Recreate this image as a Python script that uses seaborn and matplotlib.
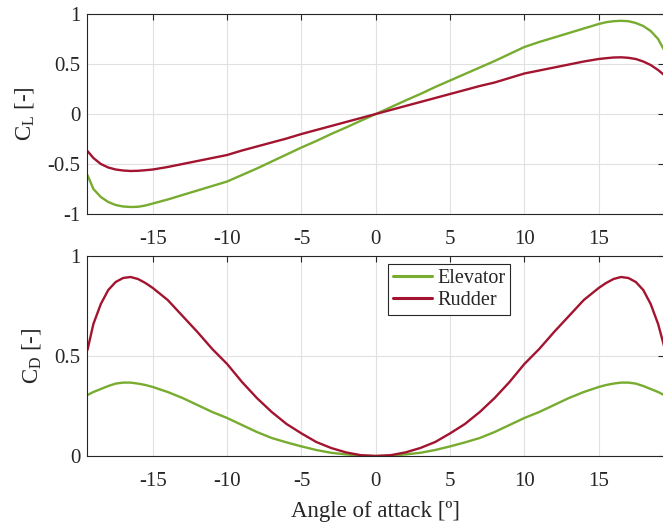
import numpy as np
import pandas as pd
import matplotlib
matplotlib.use("Agg")
import matplotlib.pyplot as plt
import seaborn as sns

# ---- data ----
alpha = [-19.4, -19, -18.5, -18, -17.5, -17, -16.5, -16, -15.5, -15, -14, -13, -12, -11, -10,
         -9, -8, -7, -6, -5, -4, -3, -2, -1, 0,
         1, 2, 3, 4, 5, 6, 7, 8, 9, 10,
         11, 12, 13, 14, 15, 15.5, 16, 16.5, 17, 17.5, 18, 18.5, 19, 19.4]

cl_elevator = [-0.61, -0.75, -0.83, -0.88, -0.91, -0.925, -0.93, -0.928, -0.915, -0.895, -0.855, -0.81, -0.765, -0.72, -0.675,
               -0.61, -0.545, -0.475, -0.405, -0.335, -0.27, -0.2, -0.135, -0.067, 0.0,
               0.067, 0.135, 0.2, 0.27, 0.335, 0.40, 0.465, 0.53, 0.60, 0.67,
               0.72, 0.765, 0.81, 0.855, 0.90, 0.918, 0.928, 0.932, 0.928, 0.91, 0.88, 0.83, 0.75, 0.64]

cl_rudder = [-0.37, -0.44, -0.50, -0.535, -0.555, -0.565, -0.57, -0.568, -0.562, -0.555, -0.53, -0.50, -0.47, -0.44, -0.41,
             -0.365, -0.325, -0.285, -0.245, -0.20, -0.16, -0.12, -0.08, -0.04, 0.0,
             0.04, 0.08, 0.12, 0.16, 0.20, 0.24, 0.28, 0.315, 0.36, 0.405,
             0.435, 0.465, 0.495, 0.525, 0.55, 0.558, 0.565, 0.567, 0.562, 0.55, 0.525, 0.49, 0.44, 0.39]

cd_elevator = [0.305, 0.32, 0.335, 0.35, 0.362, 0.367, 0.367, 0.362, 0.355, 0.345, 0.32, 0.29, 0.255, 0.22, 0.19,
               0.155, 0.12, 0.09, 0.068, 0.048, 0.03, 0.016, 0.008, 0.002, 0.0,
               0.002, 0.008, 0.016, 0.03, 0.048, 0.068, 0.09, 0.12, 0.155, 0.19,
               0.22, 0.255, 0.29, 0.32, 0.345, 0.355, 0.362, 0.367, 0.367, 0.362, 0.35, 0.335, 0.32, 0.305]

cd_rudder = [0.53, 0.66, 0.76, 0.83, 0.87, 0.89, 0.895, 0.885, 0.865, 0.84, 0.78, 0.70, 0.62, 0.535, 0.46,
             0.37, 0.29, 0.22, 0.16, 0.113, 0.07, 0.04, 0.018, 0.004, 0.0,
             0.004, 0.018, 0.04, 0.07, 0.113, 0.16, 0.22, 0.29, 0.37, 0.46,
             0.535, 0.62, 0.70, 0.78, 0.84, 0.865, 0.885, 0.895, 0.89, 0.87, 0.83, 0.76, 0.66, 0.55]

series_names = ["Elevator", "Rudder"]
colors = ["#77AC30", "#A2142F"]
xticks = [-15, -10, -5, 0, 5, 10, 15]
cl_ticks = [-1, -0.5, 0, 0.5, 1]
cd_ticks = [0, 0.5, 1]

df_cl = pd.DataFrame({"alpha": alpha * 2, "value": cl_elevator + cl_rudder,
                      "series": [series_names[0]] * len(alpha) + [series_names[1]] * len(alpha)})
df_cd = pd.DataFrame({"alpha": alpha * 2, "value": cd_elevator + cd_rudder,
                      "series": [series_names[0]] * len(alpha) + [series_names[1]] * len(alpha)})

sns.set_theme(style="white")
plt.rcParams["font.family"] = ["Liberation Serif", "DejaVu Serif"]
plt.rcParams["mathtext.fontset"] = "custom"
plt.rcParams["mathtext.rm"] = "Liberation Serif"
plt.rcParams["mathtext.it"] = "Liberation Serif:italic"

fig = plt.figure(figsize=(6.63, 5.24), dpi=100)
W, H = 663, 524
left = 87.3 / W
width = (664.2 - 87.3) / W
ax1 = fig.add_axes([left, 1 - 214 / H, width, 200 / H])
ax2 = fig.add_axes([left, 1 - 456 / H, width, 200 / H])

pal = dict(zip(series_names, colors))
sns.lineplot(data=df_cl, x="alpha", y="value", hue="series", palette=pal, ax=ax1,
             linewidth=1.7, legend=False, sort=True)
sns.lineplot(data=df_cd, x="alpha", y="value", hue="series", palette=pal, ax=ax2,
             linewidth=1.7, legend=True, sort=True)

tc = "#262626"
for ax, yt, ylim in [(ax1, cl_ticks, (-1, 1)), (ax2, cd_ticks, (0, 1))]:
    ax.set_xlim(-19.41, 19.41)
    ax.set_ylim(*ylim)
    ax.set_xticks(xticks)
    ax.set_xticklabels([str(t) for t in xticks])
    ax.set_yticks(yt)
    ax.set_yticklabels([("%g" % t) for t in yt])
    ax.grid(True, color="#e1e1e1", linewidth=0.8)
    ax.set_axisbelow(True)
    ax.tick_params(direction="in", length=4, width=0.8, top=True, right=True,
                   labelsize=15, colors=tc, labelcolor=tc)
    ax.tick_params(axis="x", pad=11.5)
    ax.tick_params(axis="y", pad=5)
    for s in ax.spines.values():
        s.set_color(tc)
        s.set_linewidth(0.8)
    ax.set_xlabel("")

ax1.set_ylabel(r"C$_{\mathrm{L}}$ [-]", fontsize=16.5, color=tc, labelpad=8)
ax2.set_ylabel(r"C$_{\mathrm{D}}$ [-]", fontsize=16.5, color=tc, labelpad=8)
ax2.set_xlabel("Angle of attack [º]", fontsize=16.5, color=tc, labelpad=7)

leg = ax2.legend(loc="upper left", bbox_to_anchor=(0.521, 0.96), borderaxespad=0,
                 fontsize=14.5, frameon=True, fancybox=False, handlelength=1.95,
                 handletextpad=0.25, borderpad=0.25, labelspacing=0.15)
leg.get_frame().set_edgecolor(tc)
leg.get_frame().set_linewidth(0.8)
leg.get_frame().set_alpha(1)
for t in leg.get_texts():
    t.set_color(tc)
for l in leg.get_lines():
    l.set_linewidth(2.2)

fig.savefig("out.png", dpi=100)
